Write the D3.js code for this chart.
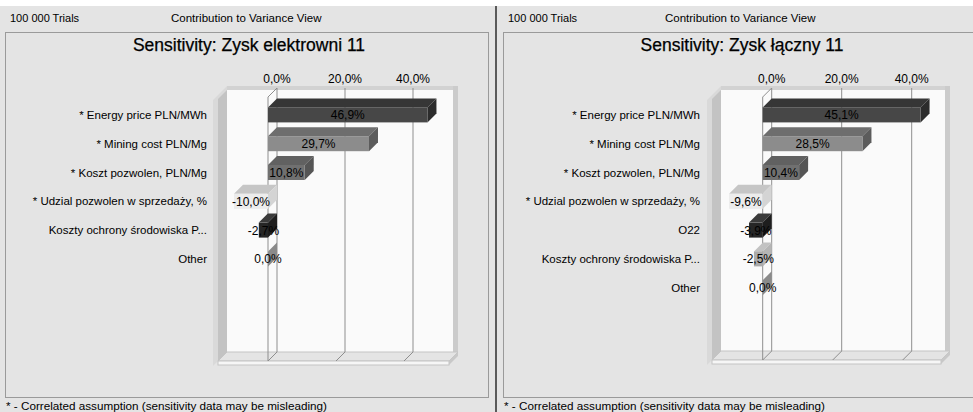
<!DOCTYPE html>
<html><head><meta charset="utf-8">
<script src="https://cdn.jsdelivr.net/npm/d3@7/dist/d3.min.js"></script>
<style>body{margin:0;background:#e4e4e4}svg{display:block}text{font-family:"Liberation Sans",Arial,sans-serif;fill:#000}</style>
</head><body>
<script>
// ---- data ----
const trialsLabel = "100 000 Trials";
const viewLabel = "Contribution to Variance View";
const footnote = "* - Correlated assumption (sensitivity data may be misleading)";
const tickValues = [0, 20, 40];

const leftTitle = "Sensitivity: Zysk elektrowni 11";
const leftCategories = ["* Energy price PLN/MWh", "* Mining cost PLN/Mg", "* Koszt pozwolen, PLN/Mg", "* Udzial pozwolen w sprzedaży, %", "Koszty ochrony środowiska P...", "Other"];
const leftValues = [46.9, 29.7, 10.8, -10.0, -2.7, 0.0];

const rightTitle = "Sensitivity: Zysk łączny 11";
const rightCategories = ["* Energy price PLN/MWh", "* Mining cost PLN/Mg", "* Koszt pozwolen, PLN/Mg", "* Udzial pozwolen w sprzedaży, %", "O22", "Koszty ochrony środowiska P...", "Other"];
const rightValues = [45.1, 28.5, 10.4, -9.6, -3.9, -2.5, 0.0];

// ---- styles ----
const cEnergy = {f:"#474747", t:"#363636", s:"#2c2c2c"};
const cMining = {f:"#8c8c8c", t:"#6e6e6e", s:"#5c5c5c"};
const cKoszt  = {f:"#707070", t:"#616161", s:"#555555"};
const cUdzial = {f:"#ececec", t:"#c6c6c6", s:"#d4d4d4"};
const cDark   = {f:"#262626", t:"#3a3a3a", s:"#1e1e1e"};
const cLight  = {f:"#ababab", t:"#c2c2c2", s:"#b5b5b5"};
const cOther  = {f:"#8a8a8a", t:"#8a8a8a", s:"#8a8a8a"};
const leftColors = [cEnergy, cMining, cKoszt, cUdzial, cDark, cOther];
const rightColors = [cEnergy, cMining, cKoszt, cUdzial, cDark, cLight, cOther];

const W = 973, H = 412, D = 9;
const svg = d3.select("body").append("svg").attr("width", W).attr("height", H);
svg.append("rect").attr("width", W).attr("height", H).attr("fill", "#e4e4e4");
svg.append("rect").attr("width", W).attr("height", 6).attr("fill", "#ffffff");
svg.append("rect").attr("x", 495).attr("y", 6).attr("width", 2).attr("height", H - 6).attr("fill", "#5a5a5a");

const fmt = v => d3.format(".1f")(v).replace(".", ",").replace("\u2212", "-") + "%";

function panel(L, title, cats, vals, colors) {
  const g = svg.append("g");
  // outer box
  g.append("rect").attr("x", L.boxL + 0.5).attr("y", L.boxT + 0.5).attr("width", L.boxR - L.boxL).attr("height", L.boxB - L.boxT)
    .attr("fill", "none").attr("stroke", "#9a9a9a");
  g.append("text").attr("x", L.trialsX).attr("y", 22).attr("font-size", 11).text(trialsLabel);
  g.append("text").attr("x", L.viewX).attr("y", 22).attr("font-size", 11.5).text(viewLabel);
  g.append("text").attr("x", L.titleX).attr("y", 51).attr("text-anchor", "middle").attr("font-size", 17.5)
    .attr("stroke", "#000").attr("stroke-width", 0.25).text(title);
  g.append("text").attr("x", L.footX).attr("y", 410).attr("font-size", 11.7).text(footnote);

  const x = d3.scaleLinear().domain([0, 40]).range([L.x0, L.x40]);
  const y = d3.scaleBand().domain(cats).range([100.5, 100.5 + cats.length * 28.8]);
  const top = L.top, fl = L.floor, wl = L.wallL, wr = L.wallR;

  // 3D box walls
  g.append("rect").attr("x", wl).attr("y", top).attr("width", wr - wl).attr("height", fl - top).attr("fill", "#fafafa");
  g.append("rect").attr("x", wl).attr("y", top - 2).attr("width", wr - wl + 5).attr("height", 4).attr("fill", "#d2d2d2");
  g.append("rect").attr("x", wr).attr("y", top - 2).attr("width", 5).attr("height", fl - top + 2).attr("fill", "#cbcbcb");
  g.append("polygon").attr("points", [[wl, top - 2], [wl - 14, top + 12], [wl - 14, fl + 14], [wl, fl]].join(" ")).attr("fill", "#d9d9d9");
  g.append("polygon").attr("points", [[wl, top + 2], [wl - D, top + 2 + D], [wl - D, fl + D], [wl, fl]].join(" ")).attr("fill", "#c3c3c3");
  // floor
  g.append("polygon").attr("points", [[wl, fl], [wr + 5, fl], [wr + 5 - D, fl + D], [wl - D, fl + D]].join(" ")).attr("fill", "#e4e4e4").attr("stroke", "#c4c4c4");
  g.append("rect").attr("x", wl - D).attr("y", fl + D).attr("width", wr + 5 - wl).attr("height", 4).attr("fill", "#f6f6f6").attr("stroke", "#c4c4c4");
  g.append("polygon").attr("points", [[wr + 5 - D, fl + D], [wr + 5, fl], [wr + 5, fl + 4], [wr + 5 - D, fl + D + 4]].join(" ")).attr("fill", "#c8c8c8");

  // gridlines
  tickValues.forEach(t => {
    const xx = x(t);
    g.append("path").attr("d", `M${xx},${top}V${fl}L${xx - D},${fl + D}`).attr("fill", "none").attr("stroke", "#8e8e8e");
    if (t === 0) {
      g.append("path").attr("d", `M${xx},${top}L${xx - D},${top + D}V${fl + D}`).attr("fill", "none").attr("stroke", "#8e8e8e");
    }
  });
  // tick labels
  g.selectAll(".tick").data(tickValues).join("text").attr("x", d => x(d)).attr("y", 83)
    .attr("text-anchor", "middle").attr("font-size", 12).text(d => fmt(d));

  // category labels
  g.selectAll(".cat").data(cats).join("text").attr("x", L.labelR).attr("y", d => y(d) + y.bandwidth() / 2 + 4)
    .attr("text-anchor", "end").attr("font-size", 11.5).text(d => d);

  // bars
  cats.forEach((c, i) => {
    const v = vals[i], col = colors[i];
    const xa = x(Math.min(0, v)) - D, xb = x(Math.max(0, v)) - D;
    const yc = y(c) + y.bandwidth() / 2, y1 = yc - 7.5, y2 = yc + 7.5;
    g.append("polygon").attr("points", [[xa, y1], [xa + D, y1 - D], [xb + D, y1 - D], [xb, y1]].join(" ")).attr("fill", col.t);
    g.append("polygon").attr("points", [[xb, y1], [xb + D, y1 - D], [xb + D, y2 - D], [xb, y2]].join(" ")).attr("fill", col.s);
    g.append("rect").attr("x", xa).attr("y", y1).attr("width", xb - xa).attr("height", 15).attr("fill", col.f);
  });
  cats.forEach((c, i) => {
    const v = vals[i];
    const xa = x(Math.min(0, v)) - D, xb = x(Math.max(0, v)) - D;
    const yc = y(c) + y.bandwidth() / 2;
    g.append("text").attr("x", (xa + xb) / 2).attr("y", yc + 4.5).attr("text-anchor", "middle").attr("font-size", 12).text(fmt(v));
  });
}

panel({boxL:5, boxR:488, boxT:32, boxB:397, trialsX:10, viewX:171, titleX:249, footX:6, labelR:207,
       wallL:227, wallR:453, top:88, floor:352, x0:277, x40:413}, leftTitle, leftCategories, leftValues, leftColors);
panel({boxL:503, boxR:973, boxT:32, boxB:397, trialsX:508, viewX:665, titleX:742, footX:504, labelR:700,
       wallL:721, wallR:945, top:88, floor:351, x0:771.7, x40:911.7}, rightTitle, rightCategories, rightValues, rightColors);
</script>
</body></html>
